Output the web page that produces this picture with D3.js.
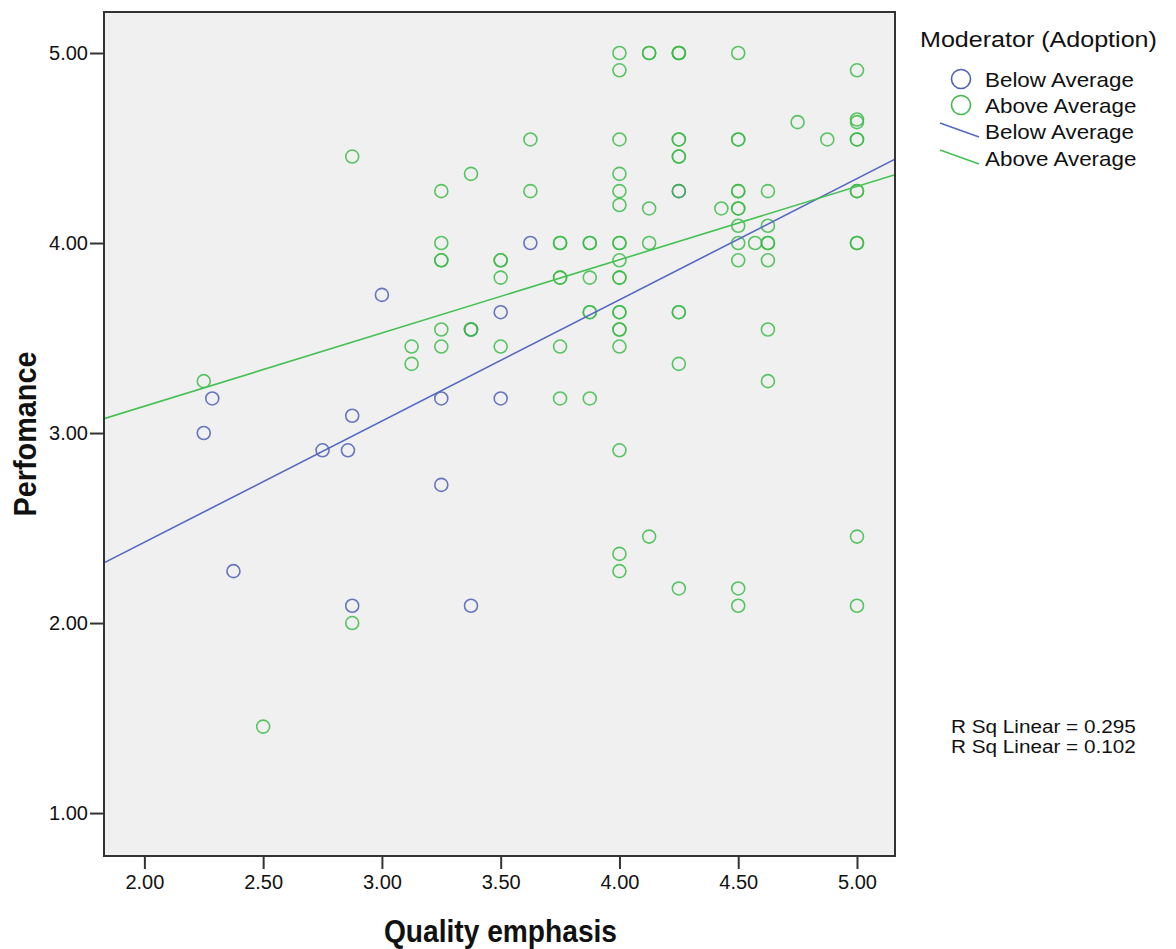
<!DOCTYPE html>
<html>
<head>
<meta charset="utf-8">
<script src="https://cdn.jsdelivr.net/npm/d3@7"></script>
<style>
  body { margin: 0; background: #fff; }
  text { font-family: "Liberation Sans", Arial, sans-serif; fill: #111; }
  .title { font-family: "Liberation Sans Narrow", "Arial Narrow", "Liberation Sans", sans-serif; font-weight: bold; }
</style>
</head>
<body>
<div id="chart"></div>
<script>
var width = 1176,
    height = 949;

// Below average adoption (blue)
var belowX = [2.25, 2.2857, 2.375, 2.75, 2.857, 2.875, 2.875, 3.0, 3.25, 3.25, 3.375, 3.375, 3.5, 3.5, 3.625, 4.25];
var belowY = [3.0, 3.182, 2.273, 2.909, 2.909, 3.091, 2.091, 3.727, 3.182, 2.727, 2.091, 3.545, 3.636, 3.182, 4.0, 4.273];

// Above average adoption (green), repeated values are overlapping cases
var aboveX = [2.25, 2.5, 2.875, 2.875, 3.125, 3.125, 3.25, 3.25, 3.25, 3.25, 3.25, 3.25,
    3.375, 3.375, 3.375, 3.5, 3.5, 3.5, 3.5, 3.625, 3.625,
    3.75, 3.75, 3.75, 3.75, 3.75, 3.75, 3.875, 3.875, 3.875, 3.875, 3.875, 3.875,
    4.0, 4.0, 4.0, 4.0, 4.0, 4.0, 4.0, 4.0, 4.0, 4.0, 4.0, 4.0, 4.0, 4.0, 4.0, 4.0, 4.0, 4.0, 4.0,
    4.125, 4.125, 4.125, 4.125, 4.125,
    4.25, 4.25, 4.25, 4.25, 4.25, 4.25, 4.25, 4.25, 4.25, 4.25, 4.25, 4.25,
    4.429, 4.5, 4.5, 4.5, 4.5, 4.5, 4.5, 4.5, 4.5, 4.5, 4.5, 4.5, 4.5, 4.571,
    4.625, 4.625, 4.625, 4.625, 4.625, 4.625, 4.625, 4.75, 4.875,
    5.0, 5.0, 5.0, 5.0, 5.0, 5.0, 5.0, 5.0, 5.0, 5.0, 5.0];
var aboveY = [3.273, 1.455, 4.455, 2.0, 3.455, 3.364, 4.273, 4.0, 3.909, 3.909, 3.545, 3.455,
    4.364, 3.545, 3.545, 3.909, 3.909, 3.818, 3.455, 4.545, 4.273,
    4.0, 4.0, 3.818, 3.818, 3.455, 3.182, 4.0, 4.0, 3.818, 3.636, 3.636, 3.182,
    5.0, 4.909, 4.545, 4.364, 4.273, 4.2, 4.0, 4.0, 3.909, 3.818, 3.818, 3.636, 3.636, 3.545, 3.545, 3.455, 2.909, 2.364, 2.273,
    5.0, 5.0, 4.182, 4.0, 2.455,
    5.0, 5.0, 5.0, 4.545, 4.545, 4.455, 4.455, 4.273, 3.636, 3.636, 3.364, 2.182,
    4.182, 5.0, 4.545, 4.545, 4.273, 4.273, 4.182, 4.182, 4.091, 4.0, 3.909, 2.182, 2.091, 4.0,
    4.273, 4.091, 4.0, 4.0, 3.909, 3.545, 3.273, 4.636, 4.545,
    4.909, 4.65, 4.636, 4.545, 4.545, 4.273, 4.273, 4.0, 4.0, 2.455, 2.091];

// Linear fit lines (intercept, slope) and R squared
var groups = ["Below Average", "Above Average"];
var fitIntercept = [1.149, 2.370];
var fitSlope = [0.638, 0.3855];
var rSquared = ["0.295", "0.102"];

var xTicks = [2, 2.5, 3, 3.5, 4, 4.5, 5];
var yTicks = [1, 2, 3, 4, 5];

var colors = ["#4d5fb5", "#3dbb49"];
var lineColors = ["#5568c2", "#45c052"];

var plot = {left: 104, right: 895, top: 12, bottom: 856};

var svg = d3.select("#chart").append("svg")
    .attr("width", width)
    .attr("height", height);

svg.append("rect").attr("width", width).attr("height", height).attr("fill", "#fff");

var x = d3.scaleLinear().domain([1.830, 5.160]).range([plot.left, plot.right]);
var y = d3.scaleLinear().domain([0.774, 5.2158]).range([plot.bottom, plot.top]);

svg.append("rect")
    .attr("x", plot.left).attr("y", plot.top)
    .attr("width", plot.right - plot.left).attr("height", plot.bottom - plot.top)
    .attr("fill", "#f0f0f0");

svg.append("clipPath").attr("id", "clip")
  .append("rect")
    .attr("x", plot.left).attr("y", plot.top)
    .attr("width", plot.right - plot.left).attr("height", plot.bottom - plot.top);

// axes
var xAxis = svg.append("g")
    .attr("transform", "translate(0," + plot.bottom + ")")
    .call(d3.axisBottom(x).tickValues(xTicks).tickFormat(d3.format(".2f")).tickSize(13).tickPadding(6));
var yAxis = svg.append("g")
    .attr("transform", "translate(" + plot.left + ",0)")
    .call(d3.axisLeft(y).tickValues(yTicks).tickFormat(d3.format(".2f")).tickSize(14).tickPadding(2));

[xAxis, yAxis].forEach(function(a) {
    a.select(".domain").remove();
    a.selectAll(".tick line").attr("stroke", "#333").attr("stroke-width", 2);
    a.selectAll(".tick text").style("font-size", "20px").attr("fill", "#222");
});

// points
var pts = svg.append("g").attr("clip-path", "url(#clip)");
var series = [d3.zip(belowX, belowY), d3.zip(aboveX, aboveY)];
series.forEach(function(data, i) {
    pts.selectAll(".pt" + i)
        .data(data)
        .enter().append("circle")
        .attr("class", "pt" + i)
        .attr("cx", function(d) { return x(d[0]); })
        .attr("cy", function(d) { return y(d[1]); })
        .attr("r", 6.5)
        .attr("fill", "none")
        .attr("stroke", colors[i])
        .attr("stroke-opacity", 0.85)
        .attr("stroke-width", 1.6);
});

// fit lines
var xd = x.domain();
groups.forEach(function(g, i) {
    pts.append("line")
        .attr("x1", x(xd[0])).attr("y1", y(fitIntercept[i] + fitSlope[i] * xd[0]))
        .attr("x2", x(xd[1])).attr("y2", y(fitIntercept[i] + fitSlope[i] * xd[1]))
        .attr("stroke", lineColors[i])
        .attr("stroke-width", 1.6);
});

// frame
svg.append("rect")
    .attr("x", plot.left).attr("y", plot.top)
    .attr("width", plot.right - plot.left).attr("height", plot.bottom - plot.top)
    .attr("fill", "none").attr("stroke", "#333").attr("stroke-width", 2);

// axis titles (condensed bold)
svg.append("text").attr("class", "title")
    .attr("transform", "translate(" + ((plot.left + plot.right) / 2 + 1) + ",942) scale(0.88,1)")
    .attr("text-anchor", "middle")
    .style("font-size", "32px")
    .text("Quality emphasis");

svg.append("text").attr("class", "title")
    .attr("transform", "translate(36,434) rotate(-90) scale(0.9,1)")
    .attr("text-anchor", "middle")
    .style("font-size", "32px")
    .text("Perfomance");

// legend
var leg = svg.append("g");
leg.append("text")
    .attr("transform", "translate(920,47) scale(1.14,1)")
    .style("font-size", "22px").attr("fill", "#222")
    .text("Moderator (Adoption)");

groups.forEach(function(g, i) {
    var cy = 79 + i * 26;
    leg.append("circle")
        .attr("cx", 961).attr("cy", cy).attr("r", 9.5)
        .attr("fill", "none").attr("stroke", colors[i]).attr("stroke-width", 1.6);
    leg.append("text")
        .attr("transform", "translate(985," + (cy + 8) + ") scale(1.12,1)")
        .style("font-size", "20px")
        .text(g);
});
groups.forEach(function(g, i) {
    var ly = 130 + i * 27;
    leg.append("line")
        .attr("x1", 940).attr("y1", ly - 7)
        .attr("x2", 979).attr("y2", ly + 7)
        .attr("stroke", lineColors[i]).attr("stroke-width", 1.6);
    leg.append("text")
        .attr("transform", "translate(985," + (ly + 9) + ") scale(1.12,1)")
        .style("font-size", "20px")
        .text(g);
});

// R squared labels
rSquared.forEach(function(r, i) {
    svg.append("text")
        .attr("transform", "translate(951," + (733 + i * 20) + ") scale(1.12,1)")
        .style("font-size", "18.5px")
        .text("R Sq Linear = " + r);
});
</script>
</body>
</html>
